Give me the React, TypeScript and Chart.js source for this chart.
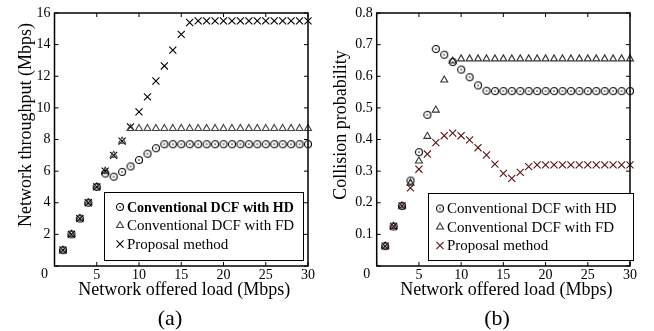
import React, { useEffect, useRef } from 'react';
import { Chart, registerables } from 'chart.js';
import { drawPoint } from 'chart.js/helpers';

Chart.register(...registerables);

// ---------- data ----------
const loads = [1, 2, 3, 4, 5, 6, 7, 8, 9, 10, 11, 12, 13, 14, 15, 16, 17, 18, 19, 20, 21, 22, 23, 24, 25, 26, 27, 28, 29, 30];

const throughputHD = [1, 2, 3, 4, 5, 5.85, 5.65, 5.95, 6.3, 6.7, 7.1, 7.45, 7.7, 7.7, 7.7, 7.7, 7.7, 7.7, 7.7, 7.7, 7.7, 7.7, 7.7, 7.7, 7.7, 7.7, 7.7, 7.7, 7.7, 7.7];
const throughputFD = [1, 2, 3, 4, 5, 6, 7, 7.9, 8.7, 8.7, 8.7, 8.7, 8.7, 8.7, 8.7, 8.7, 8.7, 8.7, 8.7, 8.7, 8.7, 8.7, 8.7, 8.7, 8.7, 8.7, 8.7, 8.7, 8.7, 8.7];
const throughputProposal = [1, 2, 3, 4, 5, 6, 7, 7.9, 8.8, 9.75, 10.7, 11.7, 12.65, 13.65, 14.65, 15.4, 15.5, 15.5, 15.5, 15.5, 15.5, 15.5, 15.5, 15.5, 15.5, 15.5, 15.5, 15.5, 15.5, 15.5];

const collisionHD = [0.063, 0.125, 0.19, 0.27, 0.36, 0.478, 0.686, 0.668, 0.645, 0.621, 0.597, 0.571, 0.554, 0.553, 0.553, 0.553, 0.553, 0.553, 0.553, 0.553, 0.553, 0.553, 0.553, 0.553, 0.553, 0.553, 0.553, 0.553, 0.553, 0.553];
const collisionFD = [0.063, 0.125, 0.19, 0.262, 0.332, 0.41, 0.493, 0.588, 0.648, 0.655, 0.655, 0.655, 0.655, 0.655, 0.655, 0.655, 0.655, 0.655, 0.655, 0.655, 0.655, 0.655, 0.655, 0.655, 0.655, 0.655, 0.655, 0.655, 0.655, 0.655];
const collisionProposal = [0.063, 0.125, 0.19, 0.247, 0.306, 0.354, 0.39, 0.412, 0.42, 0.412, 0.399, 0.374, 0.351, 0.322, 0.293, 0.277, 0.296, 0.314, 0.32, 0.32, 0.32, 0.32, 0.32, 0.32, 0.32, 0.32, 0.32, 0.32, 0.32, 0.32];

const xTicks = [0, 5, 10, 15, 20, 25, 30];
const throughputTicks = [0, 2, 4, 6, 8, 10, 12, 14, 16];
const collisionTicks = [0, 0.1, 0.2, 0.3, 0.4, 0.5, 0.6, 0.7, 0.8];

const labelHD = 'Conventional DCF with HD';
const labelFD = 'Conventional DCF with FD';
const labelProposal = 'Proposal method';

const xTitle = 'Network offered load (Mbps)';

// ---------- styling ----------
const SERIF = '"Liberation Serif", "Times New Roman", serif';

type Kind = 'circle' | 'triangle' | 'cross';
interface Series { label: string; data: number[]; kind: Kind; color: string; bold?: boolean }
interface PanelSpec {
  series: Series[];
  yMin: number; yMax: number; yTicks: number[]; yDecimals: number;
  yTitle: string; caption: string;
  plotLeft: number; padRight: number;
  yTitleX: number; captionX: number; xTitleDX: number;
  legend: { right: number; top: number; width: number; height: number; markerDX: number; textDX: number; rows: number[] };
}

function circleDot(color: string): HTMLCanvasElement {
  const c = document.createElement('canvas');
  c.width = 10; c.height = 10;
  const g = c.getContext('2d')!;
  g.strokeStyle = color; g.lineWidth = 1.1;
  g.beginPath(); g.arc(5, 5, 3.5, 0, Math.PI * 2); g.stroke();
  g.fillStyle = color;
  g.beginPath(); g.arc(5, 5, 0.8, 0, Math.PI * 2); g.fill();
  return c;
}

function pointStyleOf(s: Series, img: HTMLCanvasElement): any {
  if (s.kind === 'circle') return img;
  if (s.kind === 'triangle') return 'triangle';
  return 'crossRot';
}

function radiusOf(s: Series): number {
  return s.kind === 'cross' ? 5 : 4;
}

function drawMarker(ctx: CanvasRenderingContext2D, s: Series, img: HTMLCanvasElement, x: number, y: number) {
  if (s.kind === 'circle') {
    ctx.drawImage(img, x - img.width / 2, y - img.height / 2);
    return;
  }
  ctx.save();
  ctx.strokeStyle = s.color;
  ctx.fillStyle = 'rgba(0,0,0,0)';
  ctx.lineWidth = 1.1;
  drawPoint(ctx, { pointStyle: s.kind === 'triangle' ? 'triangle' : 'crossRot', radius: radiusOf(s), rotation: 0, borderWidth: 1.1 } as any, x, y);
  ctx.restore();
}

function makeFramePlugin(spec: PanelSpec, img: HTMLCanvasElement) {
  return {
    id: 'frameAndLegend',
    afterDraw(chart: any) {
      const ctx: CanvasRenderingContext2D = chart.ctx;
      const a = chart.chartArea;
      const xs = chart.scales.x;
      const ys = chart.scales.y;
      ctx.save();
      // inward ticks
      ctx.strokeStyle = '#000';
      ctx.lineWidth = 1;
      const tl = 4;
      for (const v of xTicks) {
        const px = xs.getPixelForValue(v);
        ctx.beginPath();
        ctx.moveTo(px, a.bottom); ctx.lineTo(px, a.bottom - tl);
        ctx.moveTo(px, a.top); ctx.lineTo(px, a.top + tl);
        ctx.stroke();
      }
      for (const v of spec.yTicks) {
        const py = ys.getPixelForValue(v);
        ctx.beginPath();
        ctx.moveTo(a.left, py); ctx.lineTo(a.left + tl, py);
        ctx.moveTo(a.right, py); ctx.lineTo(a.right - tl, py);
        ctx.stroke();
      }
      // frame
      ctx.lineWidth = 1.5;
      ctx.strokeRect(a.left, a.top, a.right - a.left, a.bottom - a.top);

      // corner "0"
      ctx.fillStyle = '#000';
      ctx.font = `14px ${SERIF}`;
      ctx.textAlign = 'center';
      ctx.textBaseline = 'middle';
      ctx.fillText('0', a.left - 10, a.bottom + 8);

      // x title
      ctx.font = `18px ${SERIF}`;
      ctx.textBaseline = 'alphabetic';
      ctx.fillText(xTitle, (a.left + a.right) / 2 + spec.xTitleDX, 295);

      // caption
      ctx.font = `22px ${SERIF}`;
      ctx.fillText(spec.caption, spec.captionX, 325);

      // y title
      ctx.save();
      ctx.translate(spec.yTitleX, 125);
      ctx.rotate(-Math.PI / 2);
      ctx.font = `18px ${SERIF}`;
      ctx.textAlign = 'center';
      ctx.textBaseline = 'alphabetic';
      ctx.fillText(spec.yTitle, 0, 0);
      ctx.restore();

      // legend
      const L = spec.legend;
      const bx = L.right - L.width;
      const by = L.top;
      ctx.fillStyle = '#fff';
      ctx.fillRect(bx, by, L.width, L.height);
      ctx.strokeStyle = '#000';
      ctx.lineWidth = 1;
      ctx.strokeRect(bx + 0.5, by + 0.5, L.width, L.height);
      spec.series.forEach((s, i) => {
        const ry = by + L.rows[i];
        drawMarker(ctx, s, img, bx + L.markerDX, ry);
        ctx.fillStyle = '#000';
        ctx.font = s.bold ? `bold 14px ${SERIF}` : `15px ${SERIF}`;
        ctx.textAlign = 'left';
        ctx.textBaseline = 'middle';
        ctx.fillText(s.label, bx + L.textDX, ry + 1);
      });
      ctx.restore();
    },
  };
}

function buildConfig(spec: PanelSpec, img: HTMLCanvasElement): any {
  const datasets = spec.series.map((s) => ({
    label: s.label,
    data: loads.map((x, i) => ({ x, y: s.data[i] })),
    showLine: false,
    clip: false,
    pointStyle: pointStyleOf(s, img),
    pointRadius: radiusOf(s),
    pointBorderColor: s.color,
    pointBackgroundColor: 'rgba(0,0,0,0)',
    pointBorderWidth: 1.1,
  }));
  return {
    type: 'scatter',
    data: { datasets },
    options: {
      animation: false,
      responsive: false,
      events: [],
      devicePixelRatio: 1,
      layout: { padding: { top: 13, right: spec.padRight, left: 0, bottom: 0 } },
      plugins: { legend: { display: false }, tooltip: { enabled: false } },
      scales: {
        x: {
          type: 'linear', min: 0, max: 30,
          afterBuildTicks: (s: any) => { s.ticks = xTicks.map((v) => ({ value: v })); },
          afterFit: (s: any) => { s.height = 65; },
          grid: { display: false, drawTicks: false },
          border: { display: false },
          ticks: {
            color: '#000', font: { family: SERIF, size: 14 }, padding: 1,
            maxRotation: 0, autoSkip: false,
            callback: (v: number) => (v === 0 ? '' : String(v)),
          },
        },
        y: {
          type: 'linear', min: spec.yMin, max: spec.yMax,
          afterBuildTicks: (s: any) => { s.ticks = spec.yTicks.map((v) => ({ value: v })); },
          afterFit: (s: any) => { s.width = spec.plotLeft; },
          grid: { display: false, drawTicks: false },
          border: { display: false },
          ticks: {
            color: '#000', font: { family: SERIF, size: 14 }, padding: 4,
            autoSkip: false,
            callback: (v: number) => (v === 0 ? '' : v.toFixed(spec.yDecimals)),
          },
        },
      },
    },
    plugins: [makeFramePlugin(spec, img)],
  };
}

function Panel({ spec }: { spec: PanelSpec }) {
  const ref = useRef<HTMLCanvasElement | null>(null);
  useEffect(() => {
    if (!ref.current) return;
    const img = circleDot('#000');
    const chart = new Chart(ref.current, buildConfig(spec, img));
    return () => chart.destroy();
  }, [spec]);
  return <canvas ref={ref} width={327} height={331} style={{ display: 'block', width: 327, height: 331 }} />;
}

const PROPOSAL_RED = '#5a1414';

const leftSpec: PanelSpec = {
  series: [
    { label: labelHD, data: throughputHD, kind: 'circle', color: '#000', bold: true },
    { label: labelFD, data: throughputFD, kind: 'triangle', color: '#444' },
    { label: labelProposal, data: throughputProposal, kind: 'cross', color: '#000' },
  ],
  yMin: 0, yMax: 16, yTicks: throughputTicks, yDecimals: 0,
  yTitle: 'Network throughput (Mbps)', caption: '(a)',
  plotLeft: 54.5, padRight: 19,
  yTitleX: 31, captionX: 170, xTitleDX: 3,
  legend: { right: 303, top: 192, width: 199, height: 68, markerDX: 16, textDX: 23, rows: [15, 33.5, 52] },
};

const rightSpec: PanelSpec = {
  series: [
    { label: labelHD, data: collisionHD, kind: 'circle', color: '#000' },
    { label: labelFD, data: collisionFD, kind: 'triangle', color: '#333' },
    { label: labelProposal, data: collisionProposal, kind: 'cross', color: PROPOSAL_RED },
  ],
  yMin: 0, yMax: 0.8, yTicks: collisionTicks, yDecimals: 1,
  yTitle: 'Collision probability', caption: '(b)',
  plotLeft: 49.7, padRight: 24,
  yTitleX: 19, captionX: 170, xTitleDX: 3,
  legend: { right: 306, top: 193, width: 205, height: 67, markerDX: 12, textDX: 19, rows: [15.5, 34, 52.5] },
};

export default function App() {
  return (
    <div style={{ position: 'fixed', left: 0, top: 0, width: 654, height: 331, background: '#fff', display: 'flex' }}>
      <Panel spec={leftSpec} />
      <Panel spec={rightSpec} />
    </div>
  );
}
